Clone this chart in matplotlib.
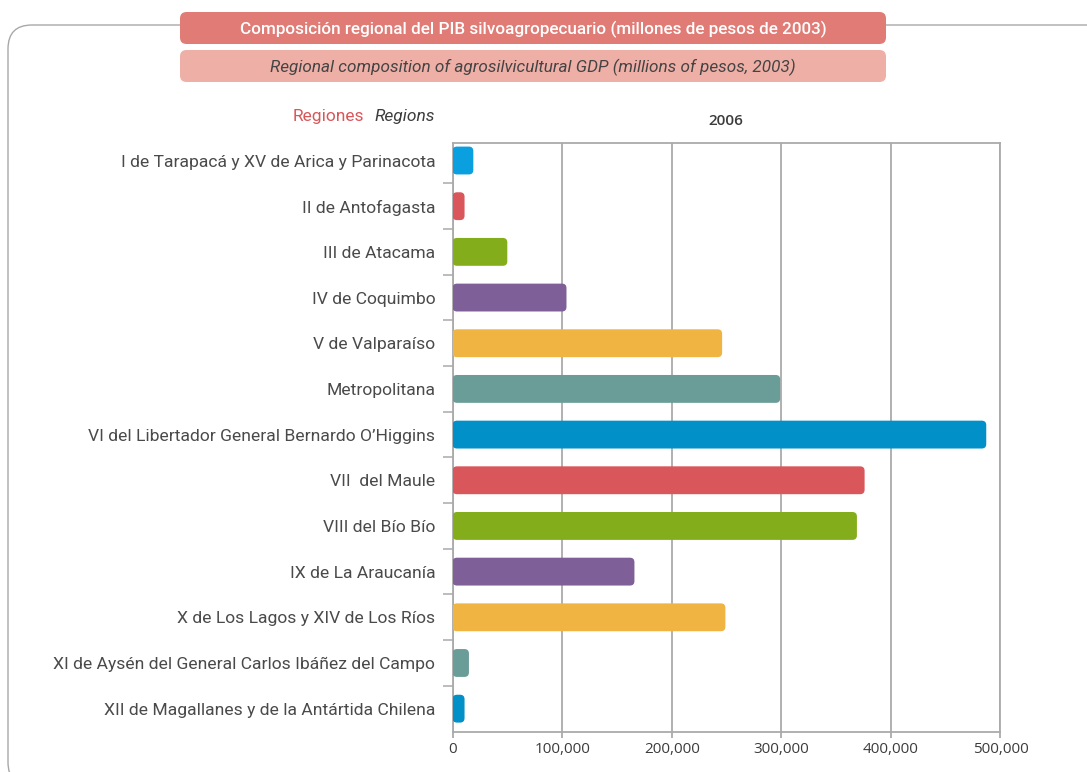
import matplotlib
matplotlib.use("Agg")
import matplotlib.pyplot as plt
from matplotlib import font_manager
from matplotlib.patches import FancyBboxPatch
from matplotlib.ticker import FuncFormatter, FixedLocator

# --- data -------------------------------------------------------------
regions = [
    "I de Tarapacá y XV de Arica y Parinacota",
    "II de Antofagasta",
    "III de Atacama",
    "IV de Coquimbo",
    "V de Valparaíso",
    "Metropolitana",
    "VI del Libertador General Bernardo O’Higgins",
    "VII  del Maule",
    "VIII del Bío Bío",
    "IX de La Araucanía",
    "X de Los Lagos y XIV de Los Ríos",
    "XI de Aysén del General Carlos Ibáñez del Campo",
    "XII de Magallanes y de la Antártida Chilena",
]
gdp_2006 = [19000, 11000, 50000, 104000, 246000, 299000, 487000,
            376000, 369000, 166000, 249000, 15000, 11000]
bar_colors = ["#0AA0DF", "#D9565A", "#83AD1A", "#7E5F98", "#F0B443",
              "#6A9C98", "#0290C8", "#D9565A", "#83AD1A", "#7E5F98",
              "#F0B443", "#6A9C98", "#0290C8"]
x_ticks = [0, 100000, 200000, 300000, 400000, 500000]

title_es = "Composición regional del PIB silvoagropecuario (millones de pesos de 2003)"
title_en = "Regional composition of agrosilvicultural GDP (millions of pesos, 2003)"
series_label = "2006"

# --- fonts ------------------------------------------------------------
available = {f.name for f in font_manager.fontManager.ttflist}
narrow = "Liberation Sans Narrow" if "Liberation Sans Narrow" in available else "Roboto"
tick_font = "Open Sans" if "Open Sans" in available else "DejaVu Sans"

TEXT = "#3C3C3C"
LABEL = "#4A4A4A"
GRID = "#AAAAAA"

W, H = 1087, 772
fig = plt.figure(figsize=(W / 100, H / 100), dpi=100)


def fx(px):
    return px / W


def fy(py):
    return 1 - py / H


# outer rounded frame (only its left and top edges fall inside the canvas)
frame = FancyBboxPatch((fx(8), fy(786)), fx(1200) - fx(8), fy(25) - fy(786),
                       boxstyle="round,pad=0,rounding_size=0.022",
                       transform=fig.transFigure, facecolor="none",
                       edgecolor="#A8A8A8", linewidth=1.0, zorder=-1,
                       mutation_aspect=W / H)
fig.patches.append(frame)

# title banners
for (top, bottom, color, text, tcolor, style, weight) in [
    (12, 44, "#E07B75", title_es, "white", "normal", "medium"),
    (50, 82, "#EEAFA6", title_en, "#444444", "italic", "normal"),
]:
    banner = FancyBboxPatch((fx(180), fy(bottom)), fx(886) - fx(180),
                            fy(top) - fy(bottom),
                            boxstyle="round,pad=0,rounding_size=0.006",
                            transform=fig.transFigure, facecolor=color,
                            edgecolor="none", zorder=1,
                            mutation_aspect=W / H)
    fig.patches.append(banner)
    fig.text(fx(533), fy((top + bottom) / 2 + 1), text, ha="center",
             va="center", color=tcolor, fontsize=12.3, family=narrow,
             style=style, fontweight=weight, zorder=2)

# axis headers
fig.text(fx(364), fy(117), "Regiones", ha="right", va="center",
         color="#D9565A", fontsize=12.5, family=narrow)
fig.text(fx(435), fy(117), "Regions", ha="right", va="center",
         color=TEXT, fontsize=12.5, family=narrow, style="italic")
fig.text(fx(726), fy(121), series_label, ha="center", va="center",
         color=TEXT, fontsize=11, family=tick_font, fontweight="semibold")

# --- chart ------------------------------------------------------------
ax = fig.add_axes([fx(452.5), fy(731.5), fx(1000.5) - fx(452.5),
                   fy(142.7) - fy(731.5)])
ax.set_zorder(2)
ax.patch.set_alpha(0)
ax.set_xlim(0, 500000)
ax.set_ylim(len(regions) - 0.5, -0.39)

ypos = list(range(len(regions)))
bar_h = 0.61
bars = ax.barh(ypos, gdp_2006, height=bar_h, color=bar_colors, zorder=3)

# swap the square bars for rounded ones of identical geometry
ax_w_px = (1000.5 - 452.5)
ax_h_px = (731.5 - 142.7)
x_per_px = 500000 / ax_w_px
y_per_px = (len(regions) - 0.5 + 0.39) / ax_h_px
radius_px = 4.5
for rect, col in zip(bars.patches, bar_colors):
    x0, y0 = rect.get_x(), rect.get_y()
    w, h = rect.get_width(), rect.get_height()
    rect.set_visible(False)
    rb = FancyBboxPatch((x0, y0), w, h,
                        boxstyle=f"round,pad=0,rounding_size={radius_px * x_per_px}",
                        mutation_aspect=y_per_px / x_per_px,
                        facecolor=col, edgecolor="none", zorder=3)
    ax.add_patch(rb)

# grid and spines
ax.xaxis.set_major_locator(FixedLocator(x_ticks))
ax.xaxis.set_major_formatter(FuncFormatter(lambda v, p: f"{int(v):,}"))
ax.grid(axis="x", color=GRID, linewidth=1.3, zorder=1)
ax.set_axisbelow(True)
for s in ax.spines.values():
    s.set_color(GRID)
    s.set_linewidth(1.3)

ax.set_yticks(ypos)
ax.set_yticklabels(regions, family=narrow, fontsize=12.6, color=LABEL)
ax.tick_params(axis="y", which="major", length=0, pad=12.5)
ax.set_yticks([i + 0.5 for i in range(len(regions) - 1)], minor=True)
ax.tick_params(axis="y", which="minor", length=7.5, width=1.1, color=GRID,
               direction="out")
ax.tick_params(axis="x", which="major", length=4.5, width=1.3, color=GRID,
               direction="out", labelsize=11, labelcolor=TEXT, pad=3)
for lbl in ax.get_xticklabels():
    lbl.set_family(tick_font)

fig.savefig("out.png", dpi=100)
